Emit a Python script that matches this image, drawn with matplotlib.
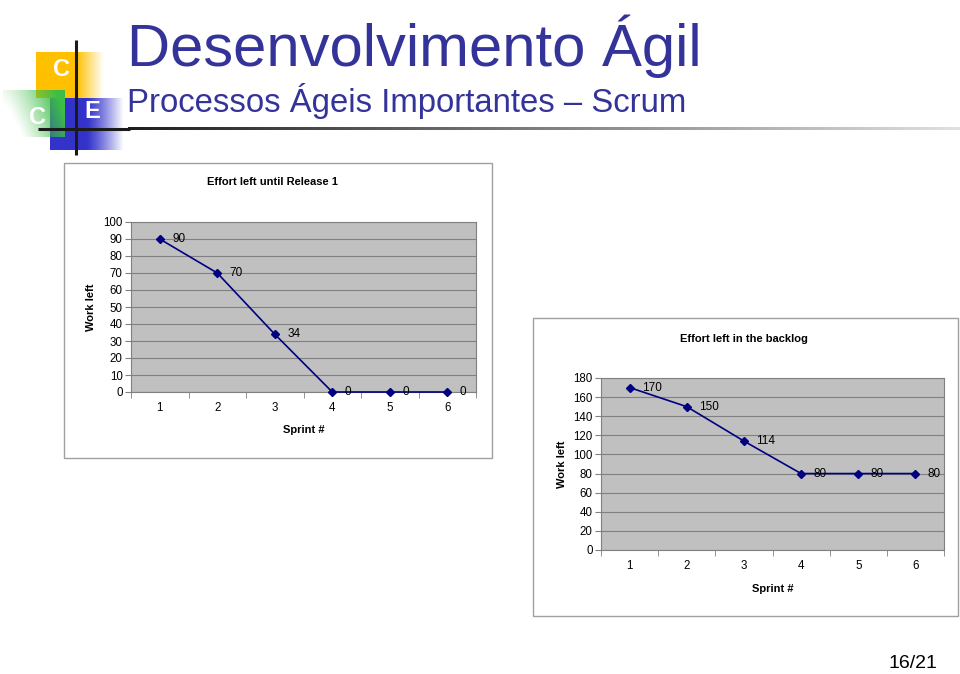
import numpy as np
import matplotlib
matplotlib.use('Agg')
import matplotlib.pyplot as plt
from matplotlib.patches import Rectangle

plt.rcParams['font.family'] = ['Liberation Sans', 'DejaVu Sans']

# data
sprints = [1, 2, 3, 4, 5, 6]
release_left = [90, 70, 34, 0, 0, 0]
backlog_left = [170, 150, 114, 80, 80, 80]

W, H = 960, 674
fig = plt.figure(figsize=(9.6, 6.74), dpi=100)

# background layer in pixel coordinates (slide decoration)
bg = fig.add_axes([0, 0, 1, 1])
bg.set_xlim(0, W)
bg.set_ylim(H, 0)
bg.axis('off')


def grad_box(x0, x1, y0, y1, rgb, alpha_fn, n=80, z=1):
    u = np.linspace(0, 1, n)
    v = np.linspace(0, 1, n)
    U, V = np.meshgrid(u, v)
    img = np.zeros((n, n, 4))
    img[..., :3] = rgb
    img[..., 3] = np.clip(alpha_fn(U, V), 0, 1)
    bg.imshow(img, extent=(x0, x1, y1, y0), origin='upper', aspect='auto',
              interpolation='bilinear', zorder=z)


yellow = np.array([255, 192, 0]) / 255
blue = np.array([51, 51, 204]) / 255
green = np.array([60, 190, 70]) / 255

grad_box(36, 104, 52, 98, yellow, lambda u, v: 1 - np.clip((u - 0.6) / 0.4, 0, 1))
grad_box(50, 124, 98, 150, blue, lambda u, v: 1 - np.clip((u - 0.5) / 0.5, 0, 1) ** 1.2)
grad_box(3, 65, 90, 137, green, lambda u, v: 0.1 + 1.1 * u ** 1.3 - 0.35 * v)

bg.plot([76, 76], [40, 155], color='#1a1a1a', lw=2.2, zorder=3, solid_capstyle='butt')
bg.plot([38, 130], [129, 129], color='#1a1a1a', lw=2.2, zorder=3, solid_capstyle='butt')

# gradient rule under the heading
n = 200
shade = np.linspace(0.12, 0.88, n)
rule = np.stack([shade, shade, shade], axis=-1)[None, :, :]
bg.imshow(rule, extent=(128, 960, 130.5, 127.5), origin='upper', aspect='auto',
          interpolation='bilinear', zorder=2)
bg.set_xlim(0, W)
bg.set_ylim(H, 0)

bg.text(61, 70, 'C', color='white', fontsize=17, fontweight='bold', ha='center', va='center', zorder=4)
bg.text(37, 117, 'C', color='white', fontsize=17, fontweight='bold', ha='center', va='center', zorder=4)
bg.text(92, 112, 'E', color='white', fontsize=17, fontweight='bold', ha='center', va='center', zorder=4)

bg.text(127, 66, 'Desenvolvimento Ágil', color='#333399', fontsize=43, ha='left', va='baseline')
bg.text(127, 112, 'Processos Ágeis Importantes – Scrum', color='#333399', fontsize=23.7, ha='left', va='baseline')
bg.text(913, 664, '16/21', color='black', fontsize=14, ha='center', va='center')

# chart frames
bg.add_patch(Rectangle((64, 163), 428, 295, fc='white', ec='#a0a0a0', lw=1, zorder=1))
bg.add_patch(Rectangle((533, 318), 425, 298, fc='white', ec='#a0a0a0', lw=1, zorder=1))


def px_axes(left, top, right, bottom):
    return fig.add_axes([left / W, 1 - bottom / H, (right - left) / W, (bottom - top) / H])


def burndown(ax, values, ymax, step, title, title_pos):
    ax.set_facecolor('#c0c0c0')
    ax.plot(sprints, values, color='#000080', lw=1.2, marker='D', ms=4.5,
            zorder=3, clip_on=False)
    for x, v in zip(sprints, values):
        ax.annotate(str(v), (x, v), xytext=(9, 0), textcoords='offset points',
                    ha='left', va='center', fontsize=8.5, zorder=4, annotation_clip=False)
    ax.set_xlim(0.5, 6.5)
    ax.set_ylim(0, ymax)
    ax.set_yticks(np.arange(0, ymax + 1, step))
    ax.set_xticks(sprints)
    ax.set_xticks(np.arange(0.5, 7, 1), minor=True)
    ax.grid(axis='y', color='#808080', lw=0.8)
    ax.set_axisbelow(True)
    for s in ax.spines.values():
        s.set_color('#808080')
        s.set_linewidth(0.8)
    ax.tick_params(axis='y', direction='out', length=4, color='#808080', labelsize=8.3, pad=2)
    ax.tick_params(axis='x', which='major', length=0, labelsize=8.3, pad=7)
    ax.tick_params(axis='x', which='minor', direction='out', length=4, color='#808080')
    ax.set_xlabel('Sprint #', fontsize=8, fontweight='bold')
    ax.set_ylabel('Work left', fontsize=8, fontweight='bold')
    ax.xaxis.set_label_coords(0.5, title_pos[2])
    ax.yaxis.set_label_coords(-0.10, 0.5)
    ax.text(title_pos[0], title_pos[1], title, transform=ax.transAxes,
            ha='center', va='center', fontsize=8, fontweight='bold')


ax1 = px_axes(131, 222, 476, 392)
burndown(ax1, release_left, 100, 10, 'Effort left until Release 1', (0.41, 1.235, -0.194))

ax2 = px_axes(601, 378, 944, 550)
burndown(ax2, backlog_left, 180, 20, 'Effort left in the backlog', (0.417, 1.227, -0.198))

fig.savefig('out.png', dpi=100)
